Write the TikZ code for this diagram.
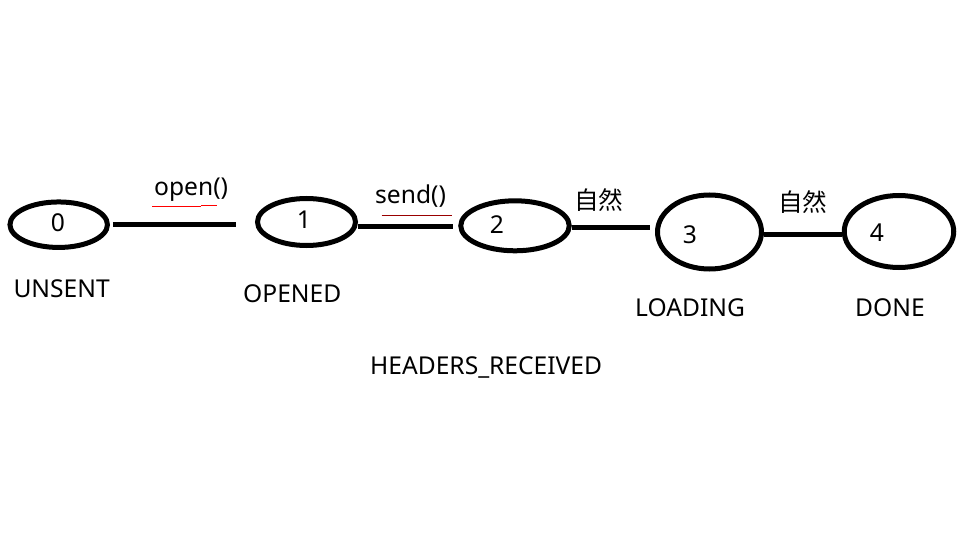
\documentclass[tikz,border=0pt]{standalone}
\usepackage{fontspec}
\setmainfont{Noto Sans}
\newfontfamily\cjkfont{Noto Sans CJK SC}
\usepackage{xcolor}
\usetikzlibrary{shapes.geometric}

\begin{document}
\begin{tikzpicture}[x=1pt, y=-1pt,
        state/.style={draw, ellipse, line width=5pt, inner sep=0pt},
        link/.style={line width=5pt},
        txt/.style={font=\fontsize{24.6}{28}\selectfont, inner sep=0pt}]
        % Fix the page to the size of the reference
        \useasboundingbox (0, 0) rectangle (972, 556);

        % Define the states: name/x/y/width/height and the place of the number
        \foreach \name/\x/\y/\w/\h/\nx/\ny in {
            0/58.7/224.7/97.5/45.5/58/223,
            1/306.5/222/98/47/304/220,
            2/515/225.8/108.5/50/497/225,
            3/709.5/232/104/74/690/235,
            4/899/231.5/109.5/72/877/232.7}{
            \node[state, minimum width=\w pt, minimum height=\h pt] (s-\name) at (\x, \y) {};
            \node[txt] (num-\name) at (\nx, \ny) {\name};
        }

        % Free ends of the connectors
        \coordinate (e01) at (236, 225);
        \coordinate (e12) at (453, 226.7);
        \coordinate (e23) at (650, 227.3);
        \coordinate (e34) at (0, 235);

        % Draw the connectors
        \draw[link, shorten <=3pt] (s-0.east |- e01) -- (e01);
        \draw[link] (s-1.east |- e12) -- (e12);
        \draw[link] (s-2.east |- e23) -- (e23);
        \draw[link] (s-3.east |- e34) -- (s-4.west |- e34);

        % Add the method labels with their underlines
        \node[txt, anchor=base west] (open) at (154, 196) {open()};
        \node[txt, anchor=base west] (send) at (375, 203.3) {send()};
        \node[txt, anchor=base west] (nat-1) at (574, 210) {\cjkfont 自然};
        \node[txt, anchor=base west] (nat-2) at (778, 212) {\cjkfont 自然};
        \draw[red, line width=1pt] (152, 206.7) -- (201, 206.7);
        \draw[red, line width=1pt] (201, 205.3) -- (217, 205.3);
        \draw[red!60!black, line width=0.8pt] (381.7, 215) -- (451.7, 215);

        % Add the state names
        \node[txt, anchor=base west] (unsent) at (13.3, 298) {UNSENT};
        \node[txt, anchor=base west] (opened) at (243, 302.7) {OPENED};
        \node[txt, anchor=base west] (loading) at (635, 316) {LOADING};
        \node[txt, anchor=base west] (done) at (855, 316.7) {DONE};
        \node[txt, anchor=base west] (received) at (370, 374) {HEADERS\_RECEIVED};
    \end{tikzpicture}
\end{document}
